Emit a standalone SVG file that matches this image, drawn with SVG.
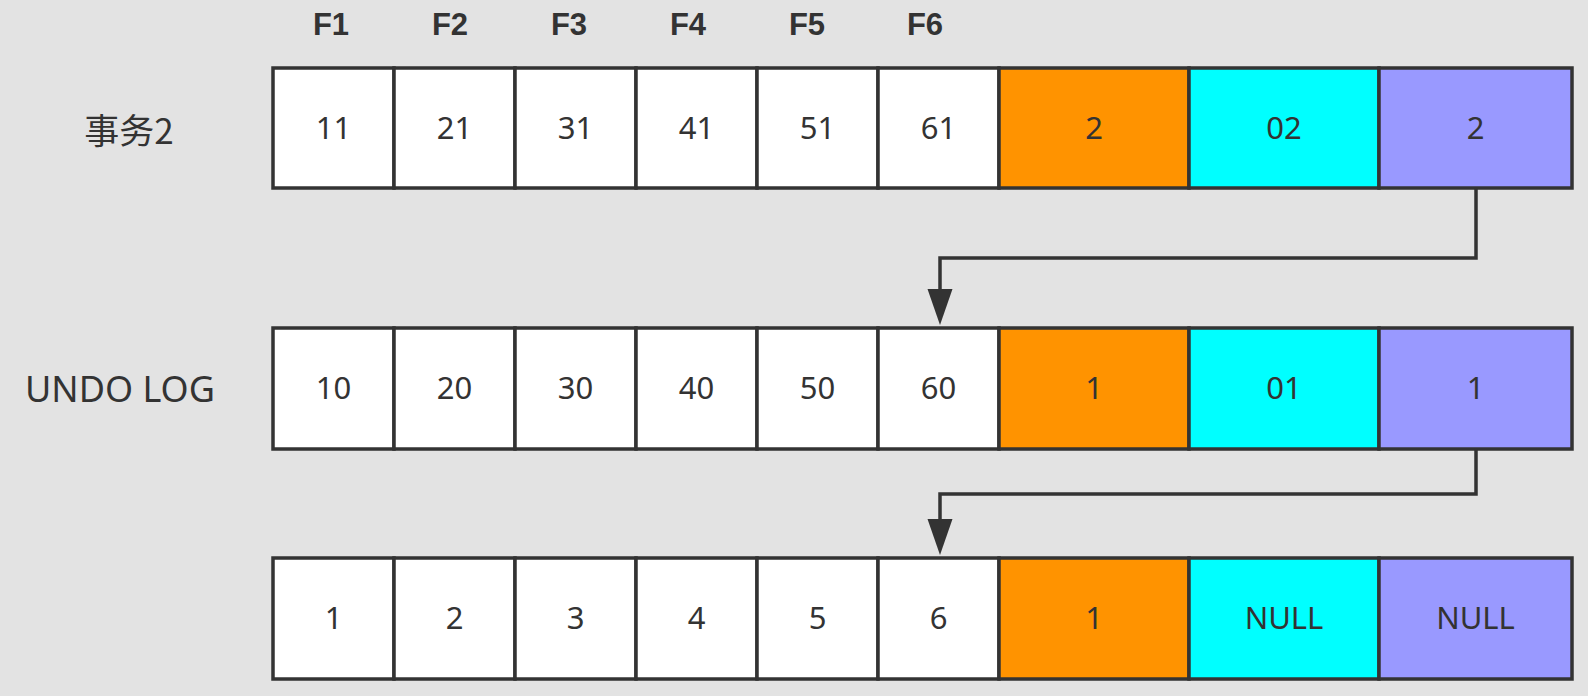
<svg xmlns="http://www.w3.org/2000/svg" width="1588" height="696" viewBox="0 0 1588 696">
<defs>
<style>
.bg{fill:#e3e3e3}
.c{stroke:#333;stroke-width:3.5}
.w{fill:#fff}
.o{fill:#ff9300}
.cy{fill:#00ffff}
.p{fill:#9999ff}
.t{font-family:"Noto Sans","DejaVu Sans",sans-serif;font-size:31px;fill:#333;text-anchor:middle}
.f{font-family:"Liberation Sans","Noto Sans",sans-serif;font-weight:bold;font-size:31px;fill:#333;text-anchor:middle}
.l{font-family:"Noto Sans","Noto Sans CJK SC",sans-serif;font-size:36px;fill:#333;text-anchor:middle}
.cjk{font-family:"Noto Sans CJK SC","Noto Sans",sans-serif;font-size:35px;fill:#333;text-anchor:middle}
.conn{fill:none;stroke:#333;stroke-width:3.5}
</style>
<marker id="arr" markerUnits="userSpaceOnUse" markerWidth="37" markerHeight="26" refX="0" refY="12.5" orient="auto" viewBox="0 0 37 25">
<path d="M0,0 L36,12.5 L0,25 z" fill="#333"/>
</marker>
</defs>
<rect class="bg" x="0" y="0" width="1588" height="696"/>
<g id="field-labels">
<text class="f" x="331" y="35">F1</text>
<text class="f" x="450" y="35">F2</text>
<text class="f" x="569" y="35">F3</text>
<text class="f" x="688" y="35">F4</text>
<text class="f" x="807" y="35">F5</text>
<text class="f" x="925" y="35">F6</text>
</g>
<g id="label-tx2"><text class="cjk" x="129" y="144">事务2</text></g>
<g id="label-undo"><text class="l" x="120" y="402">UNDO LOG</text></g>
<g id="row-tx2">
<rect class="c w" x="273" y="68" width="121" height="120"/>
<rect class="c w" x="394" y="68" width="121" height="120"/>
<rect class="c w" x="515" y="68" width="121" height="120"/>
<rect class="c w" x="636" y="68" width="121" height="120"/>
<rect class="c w" x="757" y="68" width="121" height="120"/>
<rect class="c w" x="878" y="68" width="121" height="120"/>
<rect class="c o" x="999" y="68" width="190" height="120"/>
<rect class="c cy" x="1189" y="68" width="190" height="120"/>
<rect class="c p" x="1379" y="68" width="193" height="120"/>
<text class="t" x="333.5" y="139">11</text>
<text class="t" x="454.5" y="139">21</text>
<text class="t" x="575.5" y="139">31</text>
<text class="t" x="696.5" y="139">41</text>
<text class="t" x="817.5" y="139">51</text>
<text class="t" x="938.5" y="139">61</text>
<text class="t" x="1094" y="139">2</text>
<text class="t" x="1284" y="139">02</text>
<text class="t" x="1475.5" y="139">2</text>
</g>
<g id="row-undo">
<rect class="c w" x="273" y="328" width="121" height="121"/>
<rect class="c w" x="394" y="328" width="121" height="121"/>
<rect class="c w" x="515" y="328" width="121" height="121"/>
<rect class="c w" x="636" y="328" width="121" height="121"/>
<rect class="c w" x="757" y="328" width="121" height="121"/>
<rect class="c w" x="878" y="328" width="121" height="121"/>
<rect class="c o" x="999" y="328" width="190" height="121"/>
<rect class="c cy" x="1189" y="328" width="190" height="121"/>
<rect class="c p" x="1379" y="328" width="193" height="121"/>
<text class="t" x="333.5" y="399">10</text>
<text class="t" x="454.5" y="399">20</text>
<text class="t" x="575.5" y="399">30</text>
<text class="t" x="696.5" y="399">40</text>
<text class="t" x="817.5" y="399">50</text>
<text class="t" x="938.5" y="399">60</text>
<text class="t" x="1094" y="399">1</text>
<text class="t" x="1284" y="399">01</text>
<text class="t" x="1475.5" y="399">1</text>
</g>
<g id="row-orig">
<rect class="c w" x="273" y="558" width="121" height="121"/>
<rect class="c w" x="394" y="558" width="121" height="121"/>
<rect class="c w" x="515" y="558" width="121" height="121"/>
<rect class="c w" x="636" y="558" width="121" height="121"/>
<rect class="c w" x="757" y="558" width="121" height="121"/>
<rect class="c w" x="878" y="558" width="121" height="121"/>
<rect class="c o" x="999" y="558" width="190" height="121"/>
<rect class="c cy" x="1189" y="558" width="190" height="121"/>
<rect class="c p" x="1379" y="558" width="193" height="121"/>
<text class="t" x="333.5" y="629">1</text>
<text class="t" x="454.5" y="629">2</text>
<text class="t" x="575.5" y="629">3</text>
<text class="t" x="696.5" y="629">4</text>
<text class="t" x="817.5" y="629">5</text>
<text class="t" x="938.5" y="629">6</text>
<text class="t" x="1094" y="629">1</text>
<text class="t" x="1284" y="629">NULL</text>
<text class="t" x="1475.5" y="629">NULL</text>
</g>
<g id="connectors">
<path class="conn" d="M1476,188 V258 H940 V289" marker-end="url(#arr)"/>
<path class="conn" d="M1476,449 V494 H940 V519" marker-end="url(#arr)"/>
</g>
</svg>
